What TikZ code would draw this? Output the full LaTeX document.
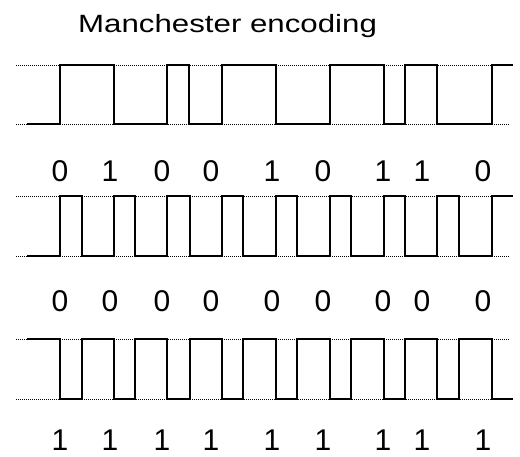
\documentclass[tikz,border=0pt]{standalone}
\usepackage{fontspec}
\setmainfont{Liberation Sans}

\tikzset{
	level/.style={dash pattern=on 1pt off 1pt, line width=0.8pt},
	wave/.style={line width=1.8pt, line join=miter},
	bit/.style={font=\fontsize{30}{36}\selectfont, anchor=base, inner sep=0pt, text depth=0pt}
}

\begin{document}
\begin{tikzpicture}[x=1pt, y=-1pt]
\useasboundingbox (0, 0) rectangle (520, 457);

\node[anchor=base west, inner sep=0pt] (title) at (78, 33)
	{\scalebox{1.25}[1]{\fontsize{25}{30}\selectfont Manchester encoding}};

% high and low levels
\foreach \y in {65, 124, 196, 256, 339, 399}
	\draw[level] (16, \y) -- (510, \y);

% 0 1 0 0 1 0 1 1 0
\draw[wave] (27, 124) -| (60, 65) -| (114, 124) -| (167, 65) -| (189, 124)
	-| (222, 65) -| (276, 124) -| (330, 65) -| (384, 124) -| (405, 65)
	-| (437, 124) -| (492, 65) -- (513, 65);

% all zeros
\draw[wave] (27, 256) -| (60, 196) -| (82, 256) -| (114, 196) -| (135, 256)
	-| (167, 196) -| (190, 256) -| (222, 196) -| (243, 256) -| (276, 196)
	-| (297, 256) -| (330, 196) -| (351, 256) -| (384, 196) -| (405, 256)
	-| (437, 196) -| (459, 256) -| (492, 196) -- (513, 196);

% all ones
\draw[wave] (27, 339) -| (60, 399) -| (82, 339) -| (114, 399) -| (135, 339)
	-| (167, 399) -| (190, 339) -| (222, 399) -| (243, 339) -| (276, 399)
	-| (297, 339) -| (330, 399) -| (351, 339) -| (384, 399) -| (405, 339)
	-| (437, 399) -| (459, 339) -| (492, 399) -- (513, 399);

\foreach \x/\b [count=\i] in {60/0, 110/1, 162/0, 211/0, 272/1, 323/0, 383/1, 422/1, 483/0}
	\node[bit] (top\i) at (\x, 182) {\b};
\foreach \x [count=\i] in {60, 110, 162, 211, 272, 323, 383, 422, 483}
	\node[bit] (mid\i) at (\x, 312) {0};
\foreach \x [count=\i] in {60, 110, 162, 211, 272, 323, 383, 422, 483}
	\node[bit] (low\i) at (\x, 450) {1};
\end{tikzpicture}
\end{document}
